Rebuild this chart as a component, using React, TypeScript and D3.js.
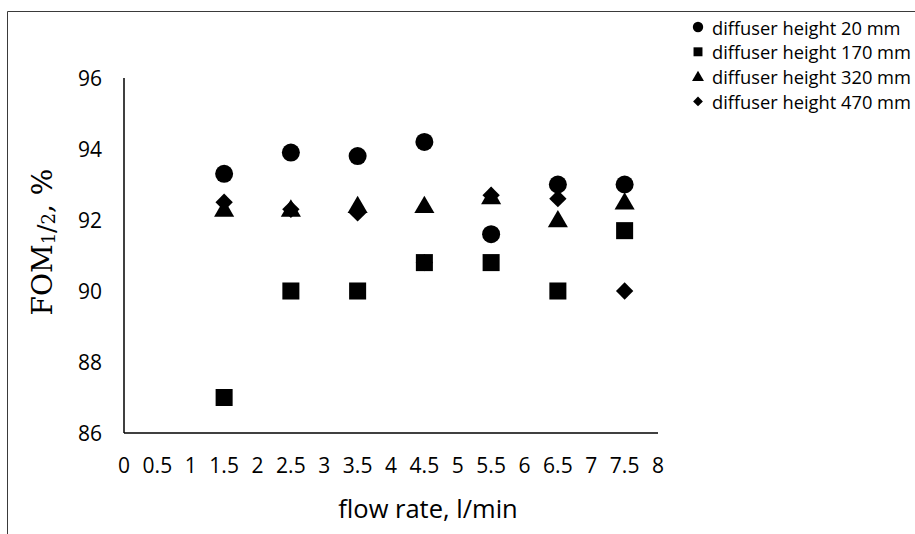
import React from "react";
import * as d3 from "d3";

const flowRates = [1.5, 2.5, 3.5, 4.5, 5.5, 6.5, 7.5];
const h20 = [93.3, 93.9, 93.8, 94.2, 91.6, 93.0, 93.0];
const h170 = [87.0, 90.0, 90.0, 90.8, 90.8, 90.0, 91.7];
const h320 = [92.3, 92.3, 92.4, 92.4, 92.65, 92.0, 92.5];
const h470 = [92.5, 92.3, 92.2, 90.8, 92.7, 92.6, 90.0];
const xTicks = [0, 0.5, 1, 1.5, 2, 2.5, 3, 3.5, 4, 4.5, 5, 5.5, 6, 6.5, 7, 7.5, 8];
const yTicks = [86, 88, 90, 92, 94, 96];
const seriesNames = [
  "diffuser height 20 mm",
  "diffuser height 170 mm",
  "diffuser height 320 mm",
  "diffuser height 470 mm",
];
const seriesValues = [h20, h170, h320, h470];
const symbolTypes = [d3.symbolCircle, d3.symbolSquare, d3.symbolTriangle, d3.symbolSquare];
const symbolSizes = [255, 290, 175, 150];
const legendSizes = [85, 80, 62, 48];

const W = 915;
const H = 534;
const font = "'Open Sans', sans-serif";

export default function App() {
  const x = d3.scaleLinear().domain([0, 8]).range([124, 658]);
  const y = d3.scaleLinear().domain([86, 96]).range([433, 78]);
  const sym = (i: number, s: number) => d3.symbol().type(symbolTypes[i]).size(s)() as string;
  const rot = (i: number) => (i === 3 ? " rotate(45)" : "");
  const triOffset = (i: number) => (i === 2 ? 1.5 : 0);

  return (
    <svg width={W} height={H} style={{ position: "absolute", left: 0, top: 0, background: "#fff" }}>
      <rect x={0} y={0} width={W} height={H} fill="#fff" />
      <path d={`M7.5,${H} L7.5,11.5 L${W},11.5`} fill="none" stroke="#3a3a3a" strokeWidth={1} />
      <line x1={x(0)} x2={x(0)} y1={y(96)} y2={y(86)} stroke="#000" strokeWidth={1.5} />
      <line x1={x(0)} x2={x(8)} y1={y(86)} y2={y(86)} stroke="#000" strokeWidth={1.5} />
      {yTicks.map((t) => (
        <text key={t} x={102} y={y(t)} textAnchor="end" dominantBaseline="central" fontFamily={font} fontSize={21} fill="#000">
          {t}
        </text>
      ))}
      {xTicks.map((t) => (
        <text key={t} x={x(t)} y={465} textAnchor="middle" dominantBaseline="central" fontFamily={font} fontSize={21} fill="#000">
          {t}
        </text>
      ))}
      <text x={428} y={508} textAnchor="middle" dominantBaseline="central" fontFamily={font} fontSize={25.5} fill="#000">
        flow rate, l/min
      </text>
      <text
        transform={`translate(42,242) rotate(-90)`}
        textAnchor="middle"
        dominantBaseline="central"
        fontFamily="'DejaVu Serif', 'Liberation Serif', serif"
        fontSize={28}
        fill="#000"
      >
        FOM
        <tspan fontSize={18} dy={6}>1</tspan>
        <tspan fontSize={25} dy={-2}>/</tspan>
        <tspan fontSize={18} dy={2}>2</tspan>
        <tspan fontSize={28} dy={-6}>, %</tspan>
      </text>
      {seriesValues.map((vals, i) => (
        <g key={i}>
          {vals.map((v, j) => (
            <path
              key={j}
              d={sym(i, symbolSizes[i])}
              transform={`translate(${x(flowRates[j])},${y(v) + triOffset(i)})${rot(i)}`}
              fill="#000"
            />
          ))}
        </g>
      ))}
      {seriesNames.map((n, i) => (
        <g key={n} transform={`translate(0,${27 + i * 24.8})`}>
          <path d={sym(i, legendSizes[i])} transform={`translate(698,${i === 2 ? 1 : 0})${rot(i)}`} fill="#000" />
          <text x={712} y={0} dominantBaseline="central" fontFamily={font} fontSize={18.3} fill="#000">
            {n}
          </text>
        </g>
      ))}
    </svg>
  );
}
